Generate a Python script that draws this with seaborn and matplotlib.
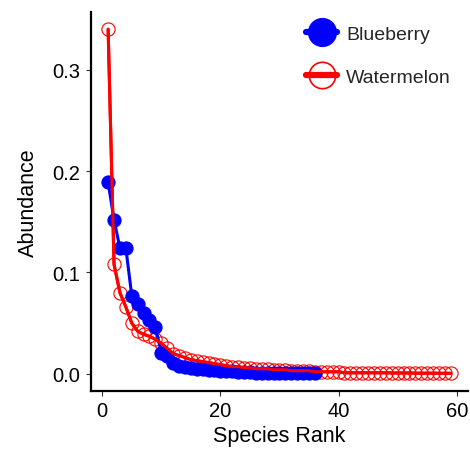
import pandas as pd
import matplotlib
matplotlib.use('Agg')
import matplotlib.pyplot as plt
from matplotlib.lines import Line2D
import seaborn as sns

# rank-abundance values
blueberry = [0.189, 0.152, 0.124, 0.124, 0.077, 0.069, 0.060, 0.053, 0.046, 0.021,
             0.018, 0.011, 0.008, 0.007, 0.006, 0.005, 0.005, 0.004, 0.004, 0.003,
             0.003, 0.003, 0.0015, 0.0015, 0.0015, 0.0012, 0.0012, 0.0012, 0.0012, 0.001,
             0.001, 0.001, 0.001, 0.001, 0.001, 0.001]
watermelon = [0.340, 0.108, 0.080, 0.066, 0.050, 0.042, 0.039, 0.037, 0.034, 0.030,
              0.025, 0.020, 0.018, 0.016, 0.014, 0.013, 0.012, 0.011, 0.010, 0.009,
              0.008, 0.007, 0.007, 0.006, 0.006, 0.005, 0.005, 0.005, 0.004, 0.004,
              0.004, 0.003, 0.003, 0.003, 0.003, 0.002, 0.002, 0.002, 0.002, 0.002,
              0.001, 0.001, 0.001, 0.001, 0.001, 0.001, 0.001, 0.001, 0.0008, 0.0008,
              0.0008, 0.0008, 0.0006, 0.0006, 0.0006, 0.0006, 0.0005, 0.0005, 0.0005]
series_names = ['Blueberry', 'Watermelon']
series_colors = ['#0000ff', '#ff0000']

blue_df = pd.DataFrame({'rank': range(1, len(blueberry) + 1), 'abundance': blueberry})
melon_df = pd.DataFrame({'rank': range(1, len(watermelon) + 1), 'abundance': watermelon})

sns.set_style('ticks')
plt.rcParams['font.family'] = ['Liberation Sans', 'DejaVu Sans']

fig = plt.figure(figsize=(4.7, 4.52), dpi=100)
ax = fig.add_axes([0.1936, 0.1327, 0.802, 0.8385])

sns.lineplot(data=melon_df, x='rank', y='abundance', ax=ax, color=series_colors[1],
             lw=2.2, marker='o', markersize=9.5, markerfacecolor='none',
             markeredgecolor=series_colors[1], markeredgewidth=0.8, zorder=2)
sns.lineplot(data=blue_df, x='rank', y='abundance', ax=ax, color=series_colors[0],
             lw=2.2, marker='o', markersize=9.5, markerfacecolor=series_colors[0],
             markeredgecolor=series_colors[0], zorder=3)
# red line drawn over the blue dots like in the original
sns.lineplot(data=melon_df, x='rank', y='abundance', ax=ax, color=series_colors[1],
             lw=2.2, zorder=4)

ax.set_xlim(-1.9, 61.9)
ax.set_ylim(-0.017, 0.357)
ax.set_xticks([0, 20, 40, 60])
ax.set_yticks([0.0, 0.1, 0.2, 0.3])
ax.set_yticklabels(['0.0', '0.1', '0.2', '0.3'])
ax.set_xlabel('Species Rank', fontsize=15.5, color='black', labelpad=3)
ax.set_ylabel('Abundance', fontsize=15.5, color='black', labelpad=10)
ax.tick_params(labelsize=14.5, colors='#333333', length=3.5, width=0.8,
               labelcolor='black', pad=4)
for side in ['left', 'bottom']:
    ax.spines[side].set_linewidth(1.6)
    ax.spines[side].set_color('black')
sns.despine(ax=ax)

handles = [
    Line2D([], [], color=series_colors[0], lw=4.5, marker='o', markersize=20,
           markerfacecolor=series_colors[0], markeredgecolor=series_colors[0]),
    Line2D([], [], color=series_colors[1], lw=4.5, marker='o', markersize=19,
           markerfacecolor='none', markeredgecolor=series_colors[1], markeredgewidth=1.2),
]
ax.legend(handles, series_names, loc='upper left', bbox_to_anchor=(0.55, 0.985),
          frameon=False, fontsize=14, handlelength=1.6, handletextpad=0.45,
          labelspacing=1.3, borderaxespad=0)

fig.savefig('out.png', dpi=100)
